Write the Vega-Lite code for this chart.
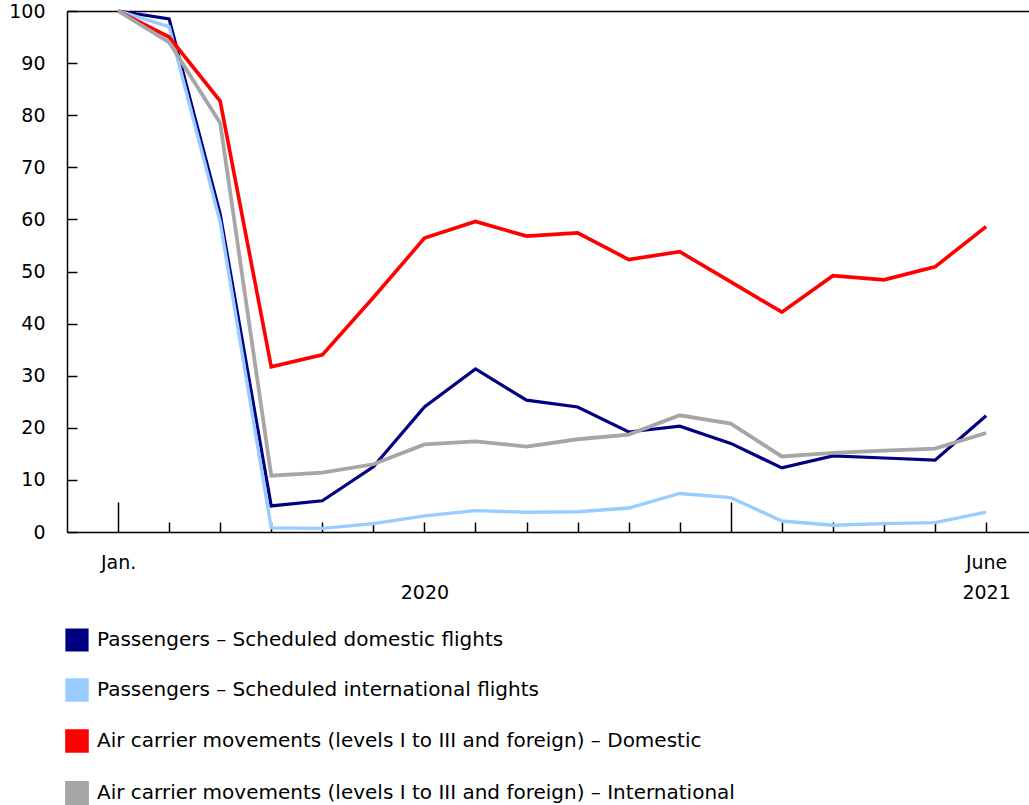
{
  "$schema": "https://vega.github.io/schema/vega-lite/v6.json",
  "width": 962,
  "height": 521,
  "autosize": "none",
  "padding": {"left": 67, "top": 11, "right": 0, "bottom": 273},
  "background": "white",
  "config": {
    "font": "DejaVu Sans",
    "view": {"stroke": null},
    "axis": {
      "domainColor": "black",
      "domainWidth": 1.5,
      "tickColor": "black",
      "tickWidth": 1.5,
      "labelColor": "black",
      "labelFontSize": 19,
      "labelFont": "DejaVu Sans"
    }
  },
  "data": {
    "values": [
      {"m": 0, "series": "Passengers – Scheduled domestic flights", "value": 100},
      {"m": 1, "series": "Passengers – Scheduled domestic flights", "value": 98.5},
      {"m": 2, "series": "Passengers – Scheduled domestic flights", "value": 61},
      {"m": 3, "series": "Passengers – Scheduled domestic flights", "value": 5},
      {"m": 4, "series": "Passengers – Scheduled domestic flights", "value": 6},
      {"m": 5, "series": "Passengers – Scheduled domestic flights", "value": 12.5},
      {"m": 6, "series": "Passengers – Scheduled domestic flights", "value": 24},
      {"m": 7, "series": "Passengers – Scheduled domestic flights", "value": 31.3},
      {"m": 8, "series": "Passengers – Scheduled domestic flights", "value": 25.3},
      {"m": 9, "series": "Passengers – Scheduled domestic flights", "value": 24},
      {"m": 10, "series": "Passengers – Scheduled domestic flights", "value": 19.2},
      {"m": 11, "series": "Passengers – Scheduled domestic flights", "value": 20.3},
      {"m": 12, "series": "Passengers – Scheduled domestic flights", "value": 17},
      {"m": 13, "series": "Passengers – Scheduled domestic flights", "value": 12.3},
      {"m": 14, "series": "Passengers – Scheduled domestic flights", "value": 14.6},
      {"m": 15, "series": "Passengers – Scheduled domestic flights", "value": 14.2},
      {"m": 16, "series": "Passengers – Scheduled domestic flights", "value": 13.8},
      {"m": 17, "series": "Passengers – Scheduled domestic flights", "value": 22.3},
      {"m": 0, "series": "Passengers – Scheduled international flights", "value": 100},
      {"m": 1, "series": "Passengers – Scheduled international flights", "value": 97},
      {"m": 2, "series": "Passengers – Scheduled international flights", "value": 59.5},
      {"m": 3, "series": "Passengers – Scheduled international flights", "value": 0.8},
      {"m": 4, "series": "Passengers – Scheduled international flights", "value": 0.7},
      {"m": 5, "series": "Passengers – Scheduled international flights", "value": 1.6},
      {"m": 6, "series": "Passengers – Scheduled international flights", "value": 3.1},
      {"m": 7, "series": "Passengers – Scheduled international flights", "value": 4.1},
      {"m": 8, "series": "Passengers – Scheduled international flights", "value": 3.8},
      {"m": 9, "series": "Passengers – Scheduled international flights", "value": 3.9},
      {"m": 10, "series": "Passengers – Scheduled international flights", "value": 4.6},
      {"m": 11, "series": "Passengers – Scheduled international flights", "value": 7.4},
      {"m": 12, "series": "Passengers – Scheduled international flights", "value": 6.6},
      {"m": 13, "series": "Passengers – Scheduled international flights", "value": 2.1},
      {"m": 14, "series": "Passengers – Scheduled international flights", "value": 1.3},
      {"m": 15, "series": "Passengers – Scheduled international flights", "value": 1.6},
      {"m": 16, "series": "Passengers – Scheduled international flights", "value": 1.8},
      {"m": 17, "series": "Passengers – Scheduled international flights", "value": 3.8},
      {"m": 0, "series": "Air carrier movements (levels I to III and foreign) – Domestic", "value": 100},
      {"m": 1, "series": "Air carrier movements (levels I to III and foreign) – Domestic", "value": 95},
      {"m": 2, "series": "Air carrier movements (levels I to III and foreign) – Domestic", "value": 82.7},
      {"m": 3, "series": "Air carrier movements (levels I to III and foreign) – Domestic", "value": 31.7},
      {"m": 4, "series": "Air carrier movements (levels I to III and foreign) – Domestic", "value": 34},
      {"m": 5, "series": "Air carrier movements (levels I to III and foreign) – Domestic", "value": 45},
      {"m": 6, "series": "Air carrier movements (levels I to III and foreign) – Domestic", "value": 56.4},
      {"m": 7, "series": "Air carrier movements (levels I to III and foreign) – Domestic", "value": 59.6},
      {"m": 8, "series": "Air carrier movements (levels I to III and foreign) – Domestic", "value": 56.8},
      {"m": 9, "series": "Air carrier movements (levels I to III and foreign) – Domestic", "value": 57.4},
      {"m": 10, "series": "Air carrier movements (levels I to III and foreign) – Domestic", "value": 52.3},
      {"m": 11, "series": "Air carrier movements (levels I to III and foreign) – Domestic", "value": 53.8},
      {"m": 12, "series": "Air carrier movements (levels I to III and foreign) – Domestic", "value": 48},
      {"m": 13, "series": "Air carrier movements (levels I to III and foreign) – Domestic", "value": 42.2},
      {"m": 14, "series": "Air carrier movements (levels I to III and foreign) – Domestic", "value": 49.2},
      {"m": 15, "series": "Air carrier movements (levels I to III and foreign) – Domestic", "value": 48.4},
      {"m": 16, "series": "Air carrier movements (levels I to III and foreign) – Domestic", "value": 50.9},
      {"m": 17, "series": "Air carrier movements (levels I to III and foreign) – Domestic", "value": 58.6},
      {"m": 0, "series": "Air carrier movements (levels I to III and foreign) – International", "value": 100},
      {"m": 1, "series": "Air carrier movements (levels I to III and foreign) – International", "value": 94},
      {"m": 2, "series": "Air carrier movements (levels I to III and foreign) – International", "value": 78.5},
      {"m": 3, "series": "Air carrier movements (levels I to III and foreign) – International", "value": 10.8},
      {"m": 4, "series": "Air carrier movements (levels I to III and foreign) – International", "value": 11.4},
      {"m": 5, "series": "Air carrier movements (levels I to III and foreign) – International", "value": 13},
      {"m": 6, "series": "Air carrier movements (levels I to III and foreign) – International", "value": 16.8},
      {"m": 7, "series": "Air carrier movements (levels I to III and foreign) – International", "value": 17.4},
      {"m": 8, "series": "Air carrier movements (levels I to III and foreign) – International", "value": 16.4},
      {"m": 9, "series": "Air carrier movements (levels I to III and foreign) – International", "value": 17.8},
      {"m": 10, "series": "Air carrier movements (levels I to III and foreign) – International", "value": 18.7},
      {"m": 11, "series": "Air carrier movements (levels I to III and foreign) – International", "value": 22.4},
      {"m": 12, "series": "Air carrier movements (levels I to III and foreign) – International", "value": 20.8},
      {"m": 13, "series": "Air carrier movements (levels I to III and foreign) – International", "value": 14.5},
      {"m": 14, "series": "Air carrier movements (levels I to III and foreign) – International", "value": 15.2},
      {"m": 15, "series": "Air carrier movements (levels I to III and foreign) – International", "value": 15.6},
      {"m": 16, "series": "Air carrier movements (levels I to III and foreign) – International", "value": 16},
      {"m": 17, "series": "Air carrier movements (levels I to III and foreign) – International", "value": 19}
    ]
  },
  "mark": {"type": "line", "clip": false},
  "encoding": {
    "x": {
      "field": "m",
      "type": "quantitative",
      "scale": {"domain": [-1, 17.84], "nice": false, "zero": false},
      "axis": {
        "title": null,
        "grid": false,
        "values": [0, 1, 2, 3, 4, 5, 6, 7, 8, 9, 10, 11, 12, 13, 14, 15, 16, 17],
        "labelExpr": "datum.value == 0 ? 'Jan.' : datum.value == 6 ? ['', '2020'] : datum.value == 17 ? ['June', '2021'] : ''",
        "labelLineHeight": 30,
        "labelPadding": {"condition": {"test": "datum.value == 0 || datum.value == 12", "value": 51}, "value": 31},
        "labelBaseline": "top",
        "labelFlush": false,
        "labelOverlap": false,
        "tickSize": {"condition": {"test": "datum.value == 0 || datum.value == 12", "value": -30}, "value": -10}
      }
    },
    "y": {
      "field": "value",
      "type": "quantitative",
      "scale": {"domain": [0, 100], "nice": false},
      "axis": {
        "title": null,
        "values": [0, 10, 20, 30, 40, 50, 60, 70, 80, 90, 100],
        "tickSize": -10,
        "labelPadding": 32,
        "grid": true,
        "gridColor": "black",
        "gridWidth": 1.5,
        "gridOpacity": {"condition": {"test": "datum.value == 100", "value": 1}, "value": 0}
      }
    },
    "strokeWidth": {
      "field": "series",
      "type": "nominal",
      "scale": {
        "domain": [
          "Passengers – Scheduled domestic flights",
          "Passengers – Scheduled international flights",
          "Air carrier movements (levels I to III and foreign) – Domestic",
          "Air carrier movements (levels I to III and foreign) – International"
        ],
        "range": [3.2, 3.8, 3.8, 3.8]
      },
      "legend": null
    },
    "color": {
      "field": "series",
      "type": "nominal",
      "sort": null,
      "scale": {
        "domain": [
          "Passengers – Scheduled domestic flights",
          "Passengers – Scheduled international flights",
          "Air carrier movements (levels I to III and foreign) – Domestic",
          "Air carrier movements (levels I to III and foreign) – International"
        ],
        "range": ["#000080", "#99ccff", "#ff0000", "#a6a6a6"]
      },
      "legend": {
        "title": null,
        "orient": "none",
        "legendX": -2,
        "legendY": 617,
        "direction": "vertical",
        "labelFontSize": 20,
        "labelColor": "black",
        "labelFont": "DejaVu Sans",
        "labelLimit": 900,
        "rowPadding": 16,
        "symbolType": "square",
        "symbolSize": 400,
        "symbolStrokeWidth": 1.5,
        "symbolOffset": 0,
        "labelOffset": 8,
        "encode": {
          "symbols": {
            "update": {
              "fill": {"scale": "color", "field": "value"},
              "stroke": {"value": "black"},
              "strokeWidth": {"value": 1.5},
              "opacity": {"value": 1}
            }
          }
        }
      }
    }
  }
}
